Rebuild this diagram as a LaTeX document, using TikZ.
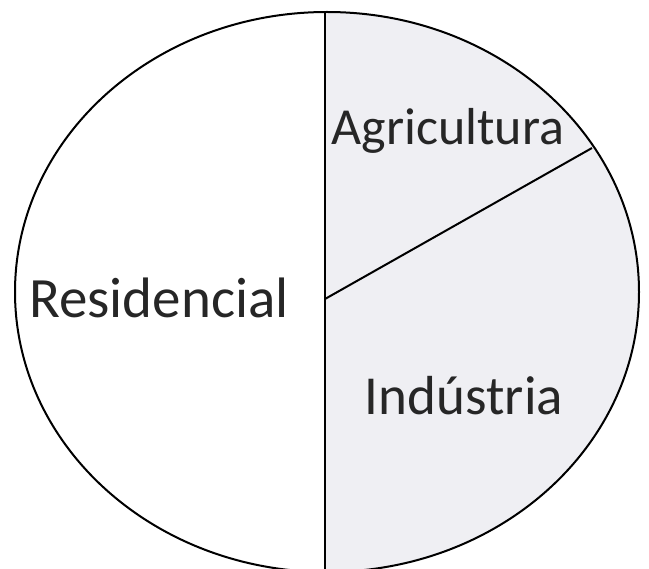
\documentclass[tikz,border=0pt]{standalone}
\usepackage{fontspec}
\setmainfont{Carlito}
\definecolor{pieshade}{RGB}{239,239,243}
\tikzset{sector label/.style={
    anchor=base, inner sep=0pt, text=black!85, font=\fontsize{#1}{66}\selectfont},
    sector label/.default=55
}

\begin{document}
\begin{tikzpicture}[x=1pt, y=-1pt, line width=2pt]
        \useasboundingbox (0,0) rectangle (649,569);
        %points on the pie
        \coordinate (centre) at (327,292);
        \coordinate (top) at (325,12);
        \coordinate (bottom) at (325,572);
        \coordinate (mid) at (325,299);
        \coordinate (rim) at (592,148);
        
        %shaded half
        \begin{scope}
         \clip (top) rectangle (649,600);
         \fill[pieshade] (centre) ellipse [x radius=312, y radius=280];
        \end{scope}
        
        %outline and dividers
        \draw (centre) ellipse [x radius=312, y radius=280];
        \draw (top) -- (bottom);
        \draw (mid) -- (rim);
        
        %labels
        \node[sector label=52](agri) at (448,145){Agricultura};
        \node[sector label=57](resid) at (159,318){Residencial};
        \node[sector label](indus) at (464,415){Indústria};
        
        \end{tikzpicture}
\end{document}
